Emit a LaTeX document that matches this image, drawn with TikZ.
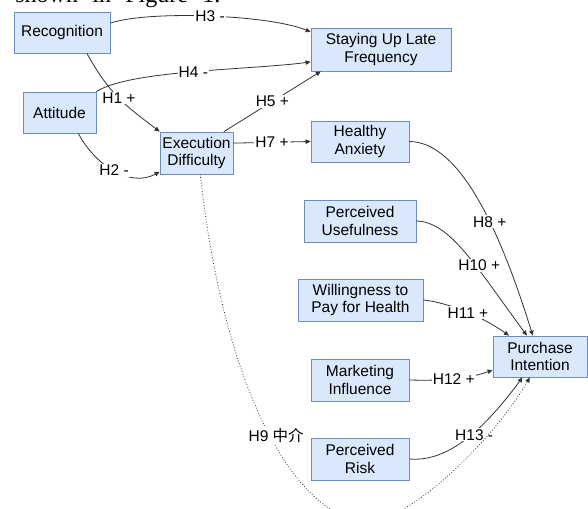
\documentclass[tikz,border=0pt]{standalone}
\usepackage{fontspec}
\setmainfont{Liberation Sans}
\newfontfamily\bodyserif{Liberation Serif}
\newfontfamily\cjk{Noto Sans CJK SC}
\usetikzlibrary{arrows.meta}
\definecolor{boxfill}{HTML}{DAE8FC}
\definecolor{boxline}{HTML}{6C8EBF}
\definecolor{linkcol}{HTML}{333333}

\begin{document}
\begin{tikzpicture}[x=1pt, y=-1pt, >={Triangle[length=5pt,width=4.5pt]}, line width=0.8pt,
    every node/.style={font=\fontsize{15.5}{17.5}\selectfont},
    var/.style={draw=boxline, fill=boxfill, align=center, minimum height=41pt, inner sep=0pt},
    hyp/.style={fill=white, inner sep=1pt},
    link/.style={draw=linkcol, ->},
    mediation/.style={draw=linkcol, ->, dotted}]
    \useasboundingbox (0,0) rectangle (588,508);
    \clip (0,0) rectangle (588,508);
    \node[anchor=base west, inner sep=0pt, font=\bodyserif\fontsize{24}{28}\selectfont] (cap) at (15,3) {\makebox[205pt][s]{shown in Figure 1.}};
    % constructs
    \node[var, minimum width=96pt] (rec) at (62,32.5) {Recognition};
    \node[var, minimum width=73pt] (att) at (59.5,112.5) {Attitude};
    \node[var, minimum width=73pt, minimum height=42pt] (exe) at (196.5,153) {Execution\\Difficulty};
    \node[var, minimum width=140pt, minimum height=43pt] (slf) at (381,49.5) {Staying Up Late\\Frequency};
    \node[var, minimum width=98pt] (anx) at (360,141.5) {Healthy\\Anxiety};
    \node[var, minimum width=112pt, minimum height=42pt] (pu) at (360,221) {Perceived\\Usefulness};
    \node[var, minimum width=125pt, minimum height=42pt] (pay) at (360.5,300) {Willingness to\\Pay for Health};
    \node[var, minimum width=94pt] (pi) at (540,356.5) {Purchase\\Intention};
    \node[var, minimum width=98pt, minimum height=42pt] (mkt) at (360,380) {Marketing\\Influence};
    \node[var, minimum width=98pt, minimum height=42pt] (risk) at (360,459) {Perceived\\Risk};
    \coordinate (dip) at (370,522);
    % hypotheses
    \draw[link] (rec.11) .. controls (150,10) and (270,15) .. node[hyp] {H3 -} (slf.166);
    \draw[link] (att.north east) .. controls (130,70) and (250,70) .. node[hyp] {H4 -} (slf.190);
    \draw[link] (exe.38) -- node[hyp] {H5 +} (slf.200);
    \draw[link] (rec.-40) .. controls (110,95) and (125,105) .. node[hyp] {H1 +} (exe.north west);
    \draw[link] (att.-48) .. controls (95,165) and (130,188) .. node[hyp] {H2 -} (exe.207);
    \draw[link] (exe.15) -- node[hyp] {H7 +} (anx.west);
    \draw[link] (anx.east) .. controls (460,142) and (500,230) .. node[hyp, pos=0.6] {H8 +} (pi.109);
    \draw[link] (pu.east) .. controls (450,222) and (475,265) .. node[hyp, pos=0.6, xshift=4pt] {H10 +} (pi.122);
    \draw[link] (pay.east) .. controls (445,302) and (480,315) .. node[hyp, pos=0.55] {H11 +} (pi.146);
    \draw[link] (mkt.east) .. controls (450,381) and (470,378) .. node[hyp, pos=0.45] {H12 +} (pi.196);
    \draw[link] (risk.east) .. controls (445,462) and (480,435) .. node[hyp, pos=0.57, xshift=3pt] {H13 -} (pi.230);
    \draw[mediation] (exe.-80) .. controls (225,400) and (300,522) .. node[hyp, xshift=8pt, yshift=-3pt] {H9 {\cjk 中介}} (dip)
        .. controls (420,515) and (500,430) .. (pi.244);
\end{tikzpicture}
\end{document}
